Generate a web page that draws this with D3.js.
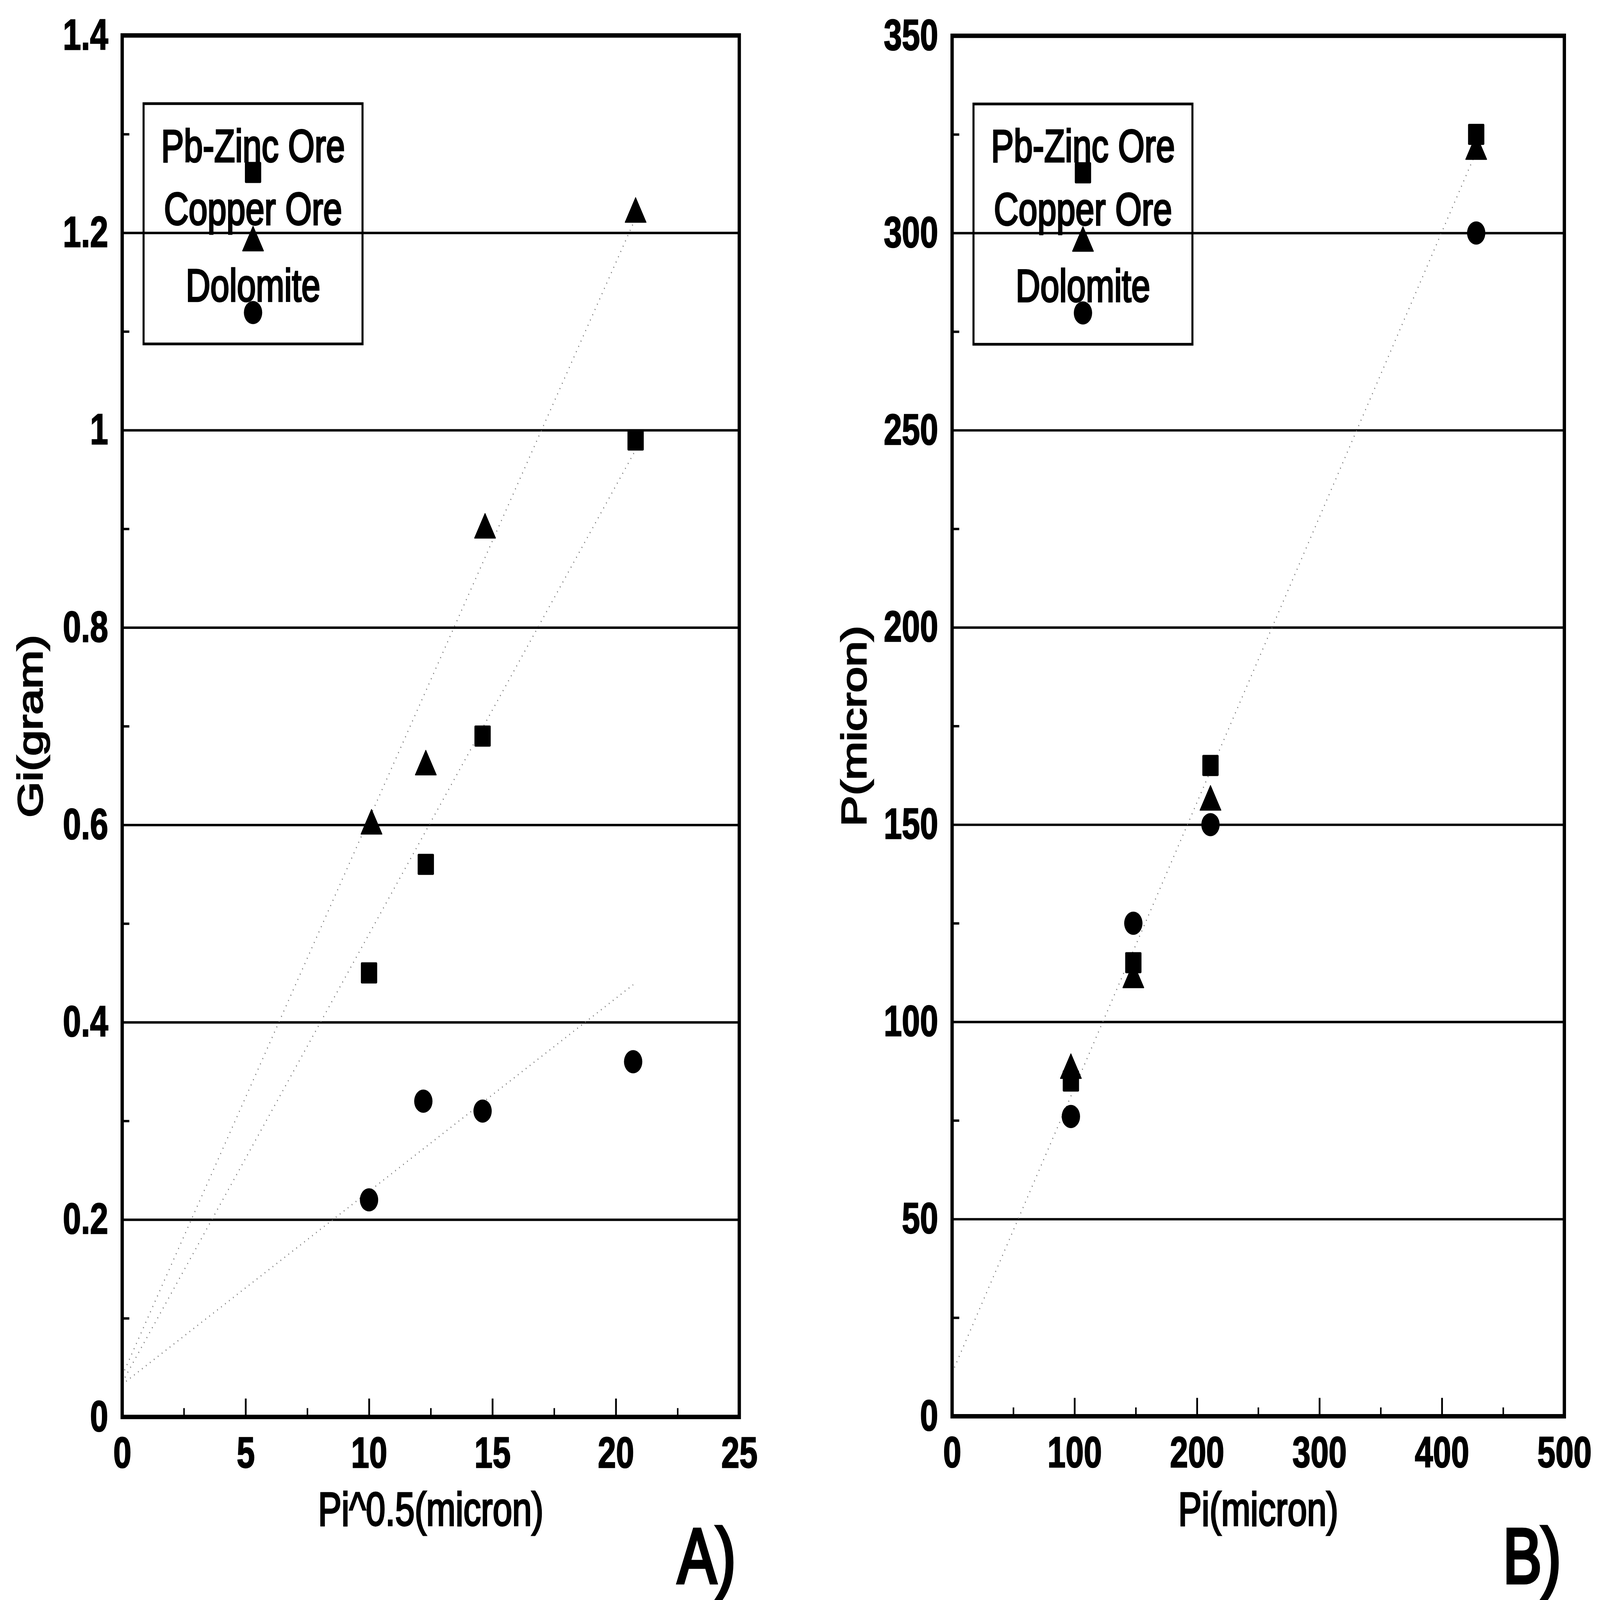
<!DOCTYPE html>
<html><head><meta charset="utf-8">
<script src="https://cdn.jsdelivr.net/npm/d3@7"></script>
<style>html,body{margin:0;padding:0;background:#fff;overflow:hidden;width:100%;height:100%;} svg{display:block;width:100vw;height:100vh;}</style>
</head><body>
<svg id="chart" viewBox="0 0 6285 4694" preserveAspectRatio="none"></svg>
<script>
// ---------------- data ----------------
const seriesNames = ["Pb-Zinc Ore", "Copper Ore", "Dolomite"];
const seriesSymbols = ["square", "triangle", "circle"];

// Panel A: Gi(gram) vs Pi^0.5(micron)
const aPbZincX = [10.0, 12.3, 14.6, 20.8];
const aPbZincY = [0.45, 0.56, 0.69, 0.99];
const aCopperX = [10.1, 12.3, 14.7, 20.8];
const aCopperY = [0.60, 0.66, 0.90, 1.22];
const aDolomiteX = [10.0, 12.2, 14.6, 20.7];
const aDolomiteY = [0.22, 0.32, 0.31, 0.36];
// fitted (dotted) lines, read as end points
const aFitPbZinc = [[0, 0.035], [20.8, 0.98]];
const aFitCopper = [[0, 0.042], [20.8, 1.215]];
const aFitDolomite = [[0, 0.033], [20.7, 0.438]];

// Panel B: P(micron) vs Pi(micron)
const bPbZincX = [97, 148, 211, 428];
const bPbZincY = [85, 115, 165, 325];
const bCopperX = [97, 148, 211, 428];
const bCopperY = [88, 111, 156, 321];
const bDolomiteX = [97, 148, 211, 428];
const bDolomiteY = [76, 125, 150, 300];
const bFit = [[0, 11], [430, 322]];

// ticks
const aXTicks = [0, 5, 10, 15, 20, 25];
const aXMinor = [2.5, 7.5, 12.5, 17.5, 22.5];
const aYTicks = [0, 0.2, 0.4, 0.6, 0.8, 1, 1.2, 1.4];
const aYMinor = [0.1, 0.3, 0.5, 0.7, 0.9, 1.1, 1.3];
const bXTicks = [0, 100, 200, 300, 400, 500];
const bXMinor = [50, 150, 250, 350, 450];
const bYTicks = [0, 50, 100, 150, 200, 250, 300, 350];
const bYMinor = [25, 75, 125, 175, 225, 275, 325];

// ---------------- drawing ----------------
const FONT = "'Liberation Sans', Arial, Helvetica, sans-serif";
const svg = d3.select("#chart");
svg.append("rect").attr("width", 6285).attr("height", 4694).attr("fill", "#fff");

function fmt(d) { return String(+d.toFixed(3)); }

function drawMarker(g, type, cx, cy) {
  if (type === "square") {
    g.append("rect").attr("x", cx - 32).attr("y", cy - 31).attr("width", 64).attr("height", 62)
      .attr("rx", 4).attr("fill", "#000");
  } else if (type === "triangle") {
    g.append("path").attr("d", `M${cx - 41},${cy + 27} L${cx},${cy - 45} L${cx + 41},${cy + 27} Z`)
      .attr("fill", "#000").attr("stroke", "#000").attr("stroke-width", 3).attr("stroke-linejoin", "round");
  } else {
    g.append("ellipse").attr("cx", cx).attr("cy", cy).attr("rx", 36).attr("ry", 34).attr("fill", "#000");
  }
}

function panel(cfg) {
  const x = d3.scaleLinear().domain(cfg.xDomain).range([cfg.left, cfg.right]);
  const y = d3.scaleLinear().domain(cfg.yDomain).range([cfg.bottom, cfg.top]);
  const W = cfg.right - cfg.left;
  const g = svg.append("g");

  // gridlines + major y ticks (through axis)
  const yAxisMajor = d3.axisLeft(y).tickValues(cfg.yTicks).tickSize(-W).tickPadding(55).tickFormat(fmt);
  const ya = g.append("g").attr("transform", `translate(${cfg.left},0)`).call(yAxisMajor);
  ya.select(".domain").remove();
  ya.selectAll(".tick line").attr("stroke", "#000").attr("stroke-width", 7);
  ya.selectAll(".tick text").attr("font-family", FONT).attr("font-size", 128).attr("font-weight", "bold")
    .attr("fill", "#000").attr("stroke", "#000").attr("stroke-width", 3);

  const yAxisMinor = d3.axisLeft(y).tickValues(cfg.yMinor).tickSize(-28).tickFormat("");
  const ym = g.append("g").attr("transform", `translate(${cfg.left},0)`).call(yAxisMinor);
  ym.select(".domain").remove();
  ym.selectAll(".tick line").attr("stroke", "#000").attr("stroke-width", 7);

  // x axis
  const xAxisMajor = d3.axisBottom(x).tickValues(cfg.xTicks).tickSize(-54).tickPadding(58).tickFormat(fmt);
  const xa = g.append("g").attr("transform", `translate(0,${cfg.bottom})`).call(xAxisMajor);
  xa.select(".domain").remove();
  xa.selectAll(".tick line").attr("stroke", "#000").attr("stroke-width", 7);
  xa.selectAll(".tick text").attr("font-family", FONT).attr("font-size", 128).attr("font-weight", "bold")
    .attr("fill", "#000").attr("stroke", "#000").attr("stroke-width", 3);

  const xAxisMinor = d3.axisBottom(x).tickValues(cfg.xMinor).tickSize(-26).tickFormat("");
  const xm = g.append("g").attr("transform", `translate(0,${cfg.bottom})`).call(xAxisMinor);
  xm.select(".domain").remove();
  xm.selectAll(".tick line").attr("stroke", "#000").attr("stroke-width", 6);

  // dotted fit lines
  const line = d3.line().x(d => x(d[0])).y(d => y(d[1]));
  cfg.fits.forEach(f => {
    g.append("path").attr("d", line(f)).attr("fill", "none").attr("stroke", "#777")
      .attr("stroke-width", 4).attr("stroke-dasharray", "3,15");
  });

  // legend
  const lx = cfg.left + 84, ly = cfg.top + 200, lw = 860, lh = 705;
  const lg = g.append("g");
  lg.append("rect").attr("x", lx).attr("y", ly).attr("width", lw).attr("height", lh)
    .attr("fill", "none").attr("stroke", "#000").attr("stroke-width", 8);
  const lcx = lx + lw / 2;
  const textBase = [170, 355, 580];
  const symY = [202, 405, 613];
  seriesNames.forEach((name, i) => {
    lg.append("text").attr("x", lcx).attr("y", ly + textBase[i]).attr("text-anchor", "middle")
      .attr("font-family", FONT).attr("font-size", 134).attr("fill", "#000")
      .attr("stroke", "#000").attr("stroke-width", 5).text(name);
  });
  seriesNames.forEach((name, i) => drawMarker(lg, seriesSymbols[i], lcx, ly + symY[i]));

  // data markers
  cfg.series.forEach((s, si) => {
    s.xs.forEach((xv, k) => drawMarker(g, seriesSymbols[si], x(xv), y(s.ys[k])));
  });

  // frame
  g.append("rect").attr("x", cfg.left).attr("y", cfg.top).attr("width", W).attr("height", cfg.bottom - cfg.top)
    .attr("fill", "none").attr("stroke", "#000").attr("stroke-width", 13);

  // titles
  g.append("text").attr("x", (cfg.left + cfg.right) / 2).attr("y", 4475).attr("text-anchor", "middle")
    .attr("font-family", FONT).attr("font-size", 138).attr("fill", "#000")
    .attr("stroke", "#000").attr("stroke-width", 5).text(cfg.xTitle);
  g.append("text").attr("transform", `translate(${cfg.yTitleX},${(cfg.top + cfg.bottom) / 2}) rotate(-90)`)
    .attr("text-anchor", "middle").attr("dominant-baseline", "central")
    .attr("font-family", FONT).attr("font-size", 136).attr("fill", "#000")
    .attr("stroke", "#000").attr("stroke-width", 5).text(cfg.yTitle);
  g.append("text").attr("x", cfg.labelX).attr("y", 4644).attr("text-anchor", "end")
    .attr("font-family", FONT).attr("font-size", 228).attr("fill", "#000")
    .attr("stroke", "#000").attr("stroke-width", 10).text(cfg.label);
}

panel({
  left: 480, right: 2904, top: 104, bottom: 4157,
  xDomain: [0, 25], yDomain: [0, 1.4],
  xTicks: aXTicks, xMinor: aXMinor, yTicks: aYTicks, yMinor: aYMinor,
  fits: [aFitCopper, aFitPbZinc, aFitDolomite],
  series: [{xs: aPbZincX, ys: aPbZincY}, {xs: aCopperX, ys: aCopperY}, {xs: aDolomiteX, ys: aDolomiteY}],
  xTitle: "Pi^0.5(micron)", yTitle: "Gi(gram)", yTitleX: 118, label: "A)", labelX: 2890
});

panel({
  left: 3740, right: 6145, top: 105, bottom: 4155,
  xDomain: [0, 500], yDomain: [0, 350],
  xTicks: bXTicks, xMinor: bXMinor, yTicks: bYTicks, yMinor: bYMinor,
  fits: [bFit],
  series: [{xs: bPbZincX, ys: bPbZincY}, {xs: bCopperX, ys: bCopperY}, {xs: bDolomiteX, ys: bDolomiteY}],
  xTitle: "Pi(micron)", yTitle: "P(micron)", yTitleX: 3355, label: "B)", labelX: 6132
});
</script>
</body></html>
